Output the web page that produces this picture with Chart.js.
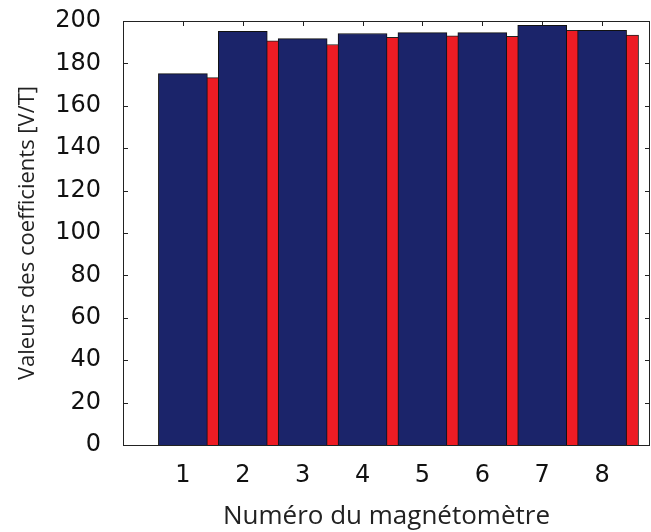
<!DOCTYPE html>
<html>
<head>
<meta charset="utf-8">
<script src="https://cdn.jsdelivr.net/npm/chart.js@4/dist/chart.umd.min.js"></script>
<style>
  body { margin: 0; background: #fff; }
  #wrap { width: 651px; height: 532px; }
</style>
</head>
<body>
<div id="wrap"><canvas id="chart"></canvas></div>
<script>
// values
const magnetometres = [1, 2, 3, 4, 5, 6, 7, 8];
const coefBleu = [175.2, 195.1, 191.7, 194.1, 194.5, 194.5, 198.0, 195.6];
const coefRouge = [173.3, 190.6, 188.9, 192.3, 193.0, 192.8, 195.6, 193.4];
const yTickLabels = [0, 20, 40, 60, 80, 100, 120, 140, 160, 180, 200];

// frame + small inward tick marks on all four sides
const frameTicks = {
  id: 'frameTicks',
  beforeDatasetsDraw(chart) {
    const { ctx, chartArea: a, scales } = chart;
    ctx.save();
    ctx.strokeStyle = '#222';
    ctx.lineWidth = 1;
    ctx.beginPath();
    magnetometres.forEach(v => {
      const x = Math.round(scales.x.getPixelForValue(v)) + 0.5;
      ctx.moveTo(x, a.top); ctx.lineTo(x, a.top + 5);
      ctx.moveTo(x, a.bottom); ctx.lineTo(x, a.bottom - 5);
    });
    yTickLabels.forEach(v => {
      const y = Math.round(scales.y.getPixelForValue(v)) + 0.5;
      ctx.moveTo(a.left, y); ctx.lineTo(a.left + 5, y);
      ctx.moveTo(a.right, y); ctx.lineTo(a.right - 5, y);
    });
    ctx.stroke();
    ctx.restore();
  },
  afterDatasetsDraw(chart) {
    const { ctx, chartArea: a } = chart;
    ctx.save();
    ctx.strokeStyle = '#222';
    ctx.lineWidth = 1;
    ctx.strokeRect(Math.round(a.left) + 0.5, Math.round(a.top) + 0.5,
      Math.round(a.right - a.left) - 1, Math.round(a.bottom - a.top));
    ctx.restore();
  }
};

new Chart(document.getElementById('chart'), {
  type: 'bar',
  data: {
    datasets: [
      {
        label: 'bleu',
        data: magnetometres.map((m, i) => ({ x: m, y: coefBleu[i] })),
        xAxisID: 'x',
        backgroundColor: '#1b246a',
        borderColor: '#111',
        borderWidth: 1,
        barThickness: 49,
        grouped: false
      },
      {
        label: 'rouge',
        data: magnetometres.map((m, i) => ({ x: m, y: coefRouge[i] })),
        xAxisID: 'x2',
        backgroundColor: '#ee1c24',
        borderColor: '#222',
        borderWidth: 1,
        barThickness: 49,
        grouped: false
      }
    ]
  },
  options: {
    responsive: true,
    maintainAspectRatio: false,
    animation: false,
    layout: { padding: { top: 21, right: 1, left: 0, bottom: 0 } },
    plugins: { legend: { display: false }, tooltip: { enabled: false } },
    scales: {
      x: {
        type: 'linear',
        offset: false,
        min: 0,
        max: 8.8,
        afterBuildTicks: s => { s.ticks = magnetometres.map(v => ({ value: v })); },
        afterFit: s => { s.height = 87; s.paddingLeft = 0; s.paddingRight = 0; },
        grid: { display: false, drawTicks: false, offset: false },
        border: { display: false },
        ticks: {
          padding: 16,
          color: '#111',
          font: { family: 'DejaVu Sans', size: 24 }
        },
        title: {
          display: true,
          text: 'Numéro du magnétomètre',
          color: '#222',
          padding: { top: 0, bottom: 0 },
          font: { family: 'Open Sans', size: 26 }
        }
      },
      x2: {
        type: 'linear',
        offset: false,
        min: -0.2,
        max: 8.6,
        display: false,
        grid: { offset: false }
      },
      y: {
        min: 0,
        max: 200,
        afterBuildTicks: s => { s.ticks = yTickLabels.map(v => ({ value: v })); },
        afterFit: s => { s.width = 123; s.paddingTop = 0; s.paddingBottom = 0; },
        grid: { display: false, drawTicks: false },
        border: { display: false },
        ticks: {
          padding: 22,
          color: '#111',
          font: { family: 'DejaVu Sans', size: 24 }
        },
        title: {
          display: true,
          text: 'Valeurs des coefficients [V/T]',
          color: '#222',
          padding: { top: 15, bottom: 0 },
          font: { family: 'Open Sans', size: 22 }
        }
      }
    }
  },
  plugins: [frameTicks]
});
</script>
</body>
</html>
